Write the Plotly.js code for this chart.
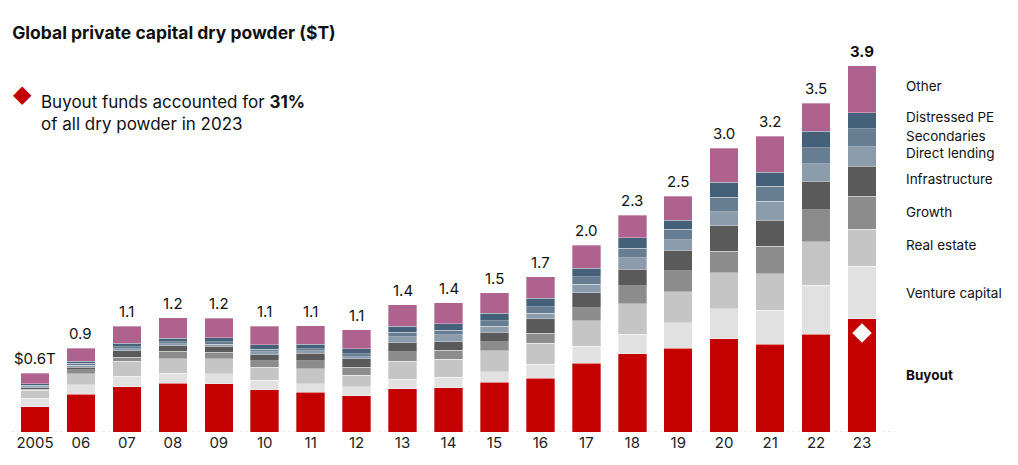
<!DOCTYPE html>
<html>
<head>
<meta charset="utf-8">
<script src="https://cdn.plot.ly/plotly-3.0.1.min.js"></script>
<style>html,body{margin:0;padding:0;background:#fff;}#chart{width:1018px;height:465px;}</style>
</head>
<body>
<div id="chart"></div>
<script>
// Categories
const years = ["2005","06","07","08","09","10","11","12","13","14","15","16","17","18","19","20","21","22","23"];
// Series values ($T)
const buyout  = [0.27,0.40,0.48,0.515,0.51,0.45,0.42,0.385,0.46,0.47,0.53,0.57,0.73,0.83,0.89,0.99,0.93,1.04,1.20];
const venture = [0.09,0.10,0.11,0.11,0.11,0.10,0.09,0.095,0.10,0.11,0.11,0.15,0.18,0.21,0.27,0.32,0.36,0.52,0.56];
const realEstate = [0.085,0.12,0.16,0.155,0.16,0.14,0.16,0.125,0.19,0.19,0.22,0.22,0.27,0.32,0.33,0.38,0.39,0.46,0.39];
const growth  = [0.01,0.04,0.045,0.075,0.065,0.065,0.085,0.08,0.10,0.10,0.10,0.11,0.14,0.19,0.22,0.23,0.29,0.34,0.35];
const infra   = [0.014,0.03,0.07,0.06,0.065,0.07,0.08,0.095,0.10,0.09,0.10,0.15,0.16,0.18,0.22,0.27,0.28,0.30,0.32];
const directLending = [0.014,0.02,0.02,0.02,0.02,0.025,0.025,0.018,0.06,0.07,0.06,0.06,0.09,0.12,0.11,0.15,0.20,0.19,0.21];
const secondaries = [0.015,0.02,0.02,0.025,0.03,0.03,0.025,0.032,0.05,0.05,0.06,0.07,0.08,0.10,0.11,0.15,0.16,0.17,0.19];
const distressed = [0.014,0.02,0.035,0.035,0.04,0.045,0.045,0.053,0.06,0.07,0.08,0.09,0.09,0.11,0.10,0.16,0.15,0.17,0.17];
const other   = [0.11,0.14,0.18,0.22,0.21,0.20,0.20,0.20,0.23,0.22,0.22,0.23,0.24,0.24,0.25,0.36,0.38,0.30,0.50];
// Total labels
const totalLabels = ["$0.6T","0.9","1.1","1.2","1.2","1.1","1.1","1.1","1.4","1.4","1.5","1.7","2.0","2.3","2.5","3.0","3.2","3.5","3.9"];
const seriesNames = ["Buyout","Venture capital","Real estate","Growth","Infrastructure","Direct lending","Secondaries","Distressed PE","Other"];
const seriesData = [buyout, venture, realEstate, growth, infra, directLending, secondaries, distressed, other];
const colors = ["#C40000","#E1E1E1","#C5C5C5","#8C8C8C","#5A5A5A","#8B9CAC","#677E92","#45617A","#AE628D"];

const FONT = "Inter, 'Open Sans', Roboto, sans-serif";
const traces = seriesData.map((d, i) => ({
  type: "bar", x: years, y: d, name: seriesNames[i],
  marker: {color: colors[i], line: {width: 0.6, color: "rgba(255,255,255,0.55)"}},
  hoverinfo: "skip"
}));

const totals = years.map((_, j) => seriesData.reduce((s, d) => s + d[j], 0));
const last = years.length - 1;
// White diamond on 2023 buyout
traces.push({type: "scatter", mode: "markers", x: [years[last]], y: [buyout[last] - 0.15],
  marker: {symbol: "diamond", color: "#ffffff", size: 15}, hoverinfo: "skip", showlegend: false});

const annotations = [];
years.forEach((yr, j) => {
  annotations.push({x: j, y: totals[j], xref: "x", yref: "y", yanchor: "bottom", yshift: 3,
    text: j === last ? "<b>" + totalLabels[j] + "</b>" : totalLabels[j], showarrow: false,
    font: {family: FONT, size: 15, color: "#111"}});
});
// Right-side series labels at segment middles of last bar
const nudges = [0, 0, -3, -1, -2, -3, -2, -4, -3];
let cum = 0;
seriesNames.forEach((n, i) => {
  const v = seriesData[i][last];
  const mid = cum + v / 2; cum += v;
  annotations.push({x: 1.022, xref: "paper", y: mid, yref: "y", xanchor: "left", yanchor: "middle",
    yshift: -nudges[i], text: i === 0 ? "<b>" + n + "</b>" : n, showarrow: false,
    font: {family: FONT, size: 13.5, color: "#111"}});
});
// Note
annotations.push({x: 0.031, xref: "paper", y: 0.808, yref: "paper", xanchor: "left", yanchor: "middle",
  text: "Buyout funds accounted for <b>31%</b><br>of all dry powder in 2023", align: "left", showarrow: false,
  font: {family: FONT, size: 17, color: "#111"}});
annotations.push({x: 0.0115, xref: "paper", y: 0.855, yref: "paper", xanchor: "center", yanchor: "middle",
  text: "◆", showarrow: false, font: {family: "DejaVu Sans", size: 24, color: "#C40000"}});

const layout = {
  width: 1018, height: 465,
  margin: {l: 12, r: 133, t: 37, b: 33},
  paper_bgcolor: "#fff", plot_bgcolor: "#fff",
  barmode: "stack", bargap: 0.38, showlegend: false,
  title: {text: "<b>Global private capital dry powder ($T)</b>", x: 0.012, xanchor: "left",
    y: 0.929, yanchor: "middle", yref: "container", font: {family: FONT, size: 17.5, color: "#111"}},
  xaxis: {type: "category", range: [-0.5, 18.5], showgrid: false, zeroline: false, showline: false,
    ticks: "", tickfont: {family: FONT, size: 15, color: "#222"}, fixedrange: true},
  yaxis: {range: [0, 4.193], visible: false, showgrid: false, zeroline: false, fixedrange: true},
  shapes: [{type: "line", xref: "paper", yref: "y", x0: 0, x1: 1.012, y0: 0, y1: 0,
    line: {color: "#d8d8d8", width: 1, dash: "dot"}, layer: "below"}],
  annotations: annotations
};
Plotly.newPlot("chart", traces, layout, {displayModeBar: false, staticPlot: true});
</script>
</body>
</html>
